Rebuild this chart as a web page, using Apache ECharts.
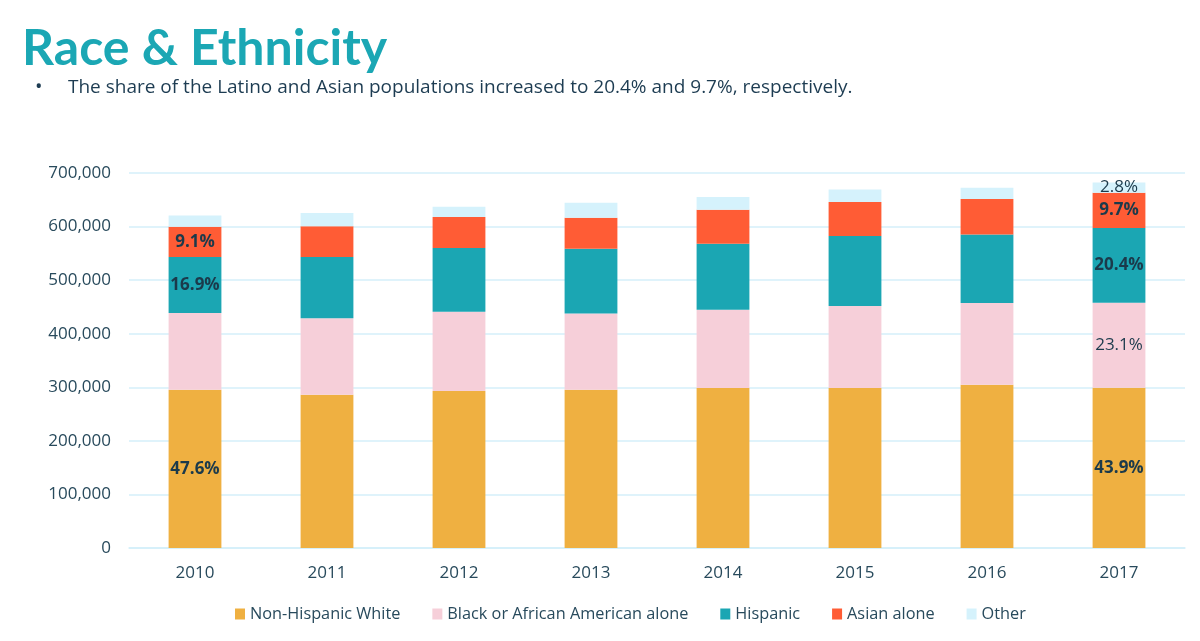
<!DOCTYPE html>
<html>
<head>
<meta charset="utf-8">
<script src="https://cdn.jsdelivr.net/npm/echarts@6/dist/echarts.min.js"></script>
<style>
  html, body { margin: 0; padding: 0; background: #fff; }
  #chart { width: 1200px; height: 641px; }
</style>
</head>
<body>
<div id="chart"></div>
<script>
// data
const years = ['2010', '2011', '2012', '2013', '2014', '2015', '2016', '2017'];
const white = [295500, 286200, 293000, 295500, 298600, 298600, 304800, 299200];
const black = [143200, 142500, 148100, 142400, 146200, 153100, 152500, 158700];
const hispanic = [104500, 114500, 118900, 120800, 123200, 130700, 128100, 139400];
const asian = [56600, 57200, 57900, 57900, 63500, 63500, 66100, 65900];
const other = [21100, 24900, 19200, 28000, 23700, 23500, 21100, 19300];

const whiteLabels = ['47.6%', '', '', '', '', '', '', '43.9%'];
const blackLabels = ['', '', '', '', '', '', '', '23.1%'];
const hispanicLabels = ['16.9%', '', '', '', '', '', '', '20.4%'];
const asianLabels = ['9.1%', '', '', '', '', '', '', '9.7%'];
const otherLabels = ['', '', '', '', '', '', '', '2.8%'];

const yTicks = [0, 100000, 200000, 300000, 400000, 500000, 600000, 700000];

const font = 'Open Sans';
const textColor = '#284a5c';

function makeSeries(name, values, labels, color, bold) {
  return {
    name: name,
    type: 'bar',
    stack: 'total',
    barWidth: '40%',
    itemStyle: { color: color },
    data: values.map((v, i) => ({
      value: v,
      label: {
        show: labels[i] !== '',
        position: 'inside',
        formatter: labels[i],
        color: '#1b3a4b',
        fontFamily: font,
        fontSize: 17,
        fontWeight: bold ? 'bold' : 'normal'
      }
    }))
  };
}

const chart = echarts.init(document.getElementById('chart'));
chart.setOption({
  backgroundColor: '#fff',
  animation: false,
  graphic: [
    {
      type: 'text', left: 22, top: 24,
      style: { text: 'Race & Ethnicity', fill: '#1ba7b4', font: 'bold 50px Lato' }
    },
    {
      type: 'text', left: 35, top: 77,
      style: { text: '•', fill: '#1d3c52', font: '20px "Open Sans"' }
    },
    {
      type: 'text', left: 68, top: 78,
      style: {
        text: 'The share of the Latino and Asian populations increased to 20.4% and 9.7%, respectively.',
        fill: '#1d3c52', font: '19px "Open Sans"'
      }
    }
  ],
  legend: {
    bottom: 14,
    left: 230,
    itemWidth: 10,
    itemHeight: 11,
    itemGap: 32,
    icon: 'rect',
    textStyle: { color: textColor, fontFamily: font, fontSize: 16.3 },
    data: ['Non-Hispanic White', 'Black or African American alone', 'Hispanic', 'Asian alone', 'Other']
  },
  grid: { left: 129, right: 15, top: 173, bottom: 93 },
  xAxis: {
    type: 'category',
    data: years,
    axisLine: { lineStyle: { color: '#d4effa', width: 1.5 } },
    axisTick: { show: false },
    axisLabel: { color: textColor, fontFamily: font, fontSize: 17, margin: 17 }
  },
  yAxis: {
    type: 'value',
    min: yTicks[0],
    max: yTicks[yTicks.length - 1],
    interval: yTicks[1] - yTicks[0],
    axisLine: { show: false },
    axisTick: { show: false },
    splitLine: { lineStyle: { color: '#d4effa', width: 1.5 } },
    axisLabel: {
      color: textColor, fontFamily: font, fontSize: 17, margin: 18,
      formatter: v => v.toLocaleString('en-US')
    }
  },
  series: [
    makeSeries('Non-Hispanic White', white, whiteLabels, '#efb041', true),
    makeSeries('Black or African American alone', black, blackLabels, '#f6cfd9', false),
    makeSeries('Hispanic', hispanic, hispanicLabels, '#1ba6b3', true),
    makeSeries('Asian alone', asian, asianLabels, '#ff5c35', true),
    makeSeries('Other', other, otherLabels, '#d5f2fc', false)
  ]
});
</script>
</body>
</html>
